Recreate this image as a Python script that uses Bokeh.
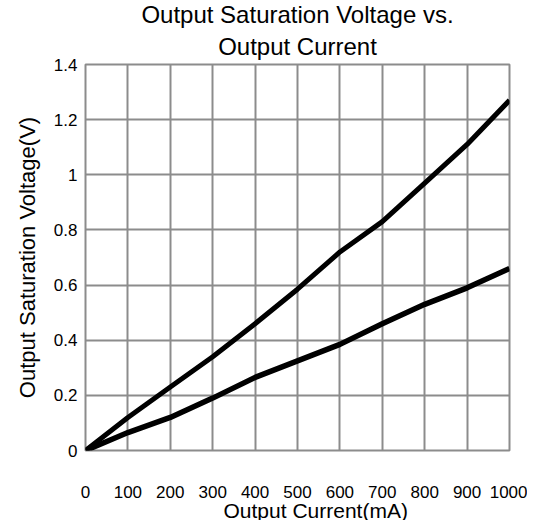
from bokeh.plotting import figure
from bokeh.models import FixedTicker, Title
from bokeh.embed import file_html
from bokeh.resources import INLINE

# ---- data ----
current_ma = [0, 100, 200, 300, 400, 500, 600, 700, 800, 900, 1000]
vsat_upper = [0, 0.12, 0.23, 0.34, 0.46, 0.585, 0.72, 0.83, 0.97, 1.11, 1.27]
vsat_lower = [0, 0.065, 0.12, 0.19, 0.265, 0.325, 0.385, 0.46, 0.53, 0.59, 0.66]

x_tick_values = [0, 100, 200, 300, 400, 500, 600, 700, 800, 900, 1000]
y_tick_values = [0, 0.2, 0.4, 0.6, 0.8, 1.0, 1.2, 1.4]
y_tick_labels = ["0", "0.2", "0.4", "0.6", "0.8", "1", "1.2", "1.4"]

title_line1 = "Output Saturation Voltage vs."
title_line2 = "Output Current"
x_label = "Output Current(mA)"
y_label = "Output Saturation Voltage(V)"

FONT = "Liberation Sans"
GRID = "#8c8c8c"

p = figure(width=527, height=520, x_range=(0, 1000), y_range=(0, 1.4),
           output_backend="svg", toolbar_location=None,
           min_border_left=85, min_border_right=18,
           min_border_top=64, min_border_bottom=70)
p.title.visible = False
p.background_fill_color = "white"
p.border_fill_color = "white"
p.outline_line_color = GRID
p.outline_line_width = 2

# titles (later added = further from frame)
t2 = Title(text=title_line2, align="center", text_font=FONT, text_font_size="24px",
           text_font_style="normal", text_color="black", standoff=10)
t1 = Title(text=title_line1, align="center", text_font=FONT, text_font_size="24px",
           text_font_style="normal", text_color="black", standoff=-5)
p.add_layout(t2, "above")
p.add_layout(t1, "above")

# axes
for ax in (p.xaxis[0], p.yaxis[0]):
    ax.axis_line_color = None
    ax.major_tick_line_color = None
    ax.minor_tick_line_color = None
    ax.major_tick_out = 0
    ax.major_tick_in = 0
    ax.minor_tick_out = 0
    ax.minor_tick_in = 0
    ax.major_label_text_font = FONT
    ax.major_label_text_font_size = "17px"
    ax.major_label_text_color = "black"

p.xaxis.ticker = FixedTicker(ticks=x_tick_values)
p.yaxis.ticker = FixedTicker(ticks=y_tick_values)
p.yaxis.major_label_overrides = {v: s for v, s in zip(y_tick_values, y_tick_labels)}
p.xaxis.major_label_standoff = 35
p.yaxis.major_label_standoff = 8

# x-axis title: sits right of centre in the reference
xl = Title(text=x_label, align="left", offset=138, text_font=FONT,
           text_font_size="21px", text_font_style="normal", text_color="black",
           standoff=-8)
p.add_layout(xl, "below")

yl = Title(text=y_label, align="center", text_font=FONT,
           text_font_size="22px", text_font_style="normal", text_color="black", standoff=22)
p.add_layout(yl, "left")

# grid
p.xgrid.ticker = FixedTicker(ticks=x_tick_values)
p.ygrid.ticker = FixedTicker(ticks=y_tick_values)
for g in (p.xgrid[0], p.ygrid[0]):
    g.grid_line_color = GRID
    g.grid_line_width = 2
    g.grid_line_alpha = 1.0

# curves
p.line(current_ma, vsat_upper, line_width=5, line_color="black", line_join="round")
p.line(current_ma, vsat_lower, line_width=5.5, line_color="black", line_join="round")

open("out.html", "w").write(file_html(p, INLINE))
